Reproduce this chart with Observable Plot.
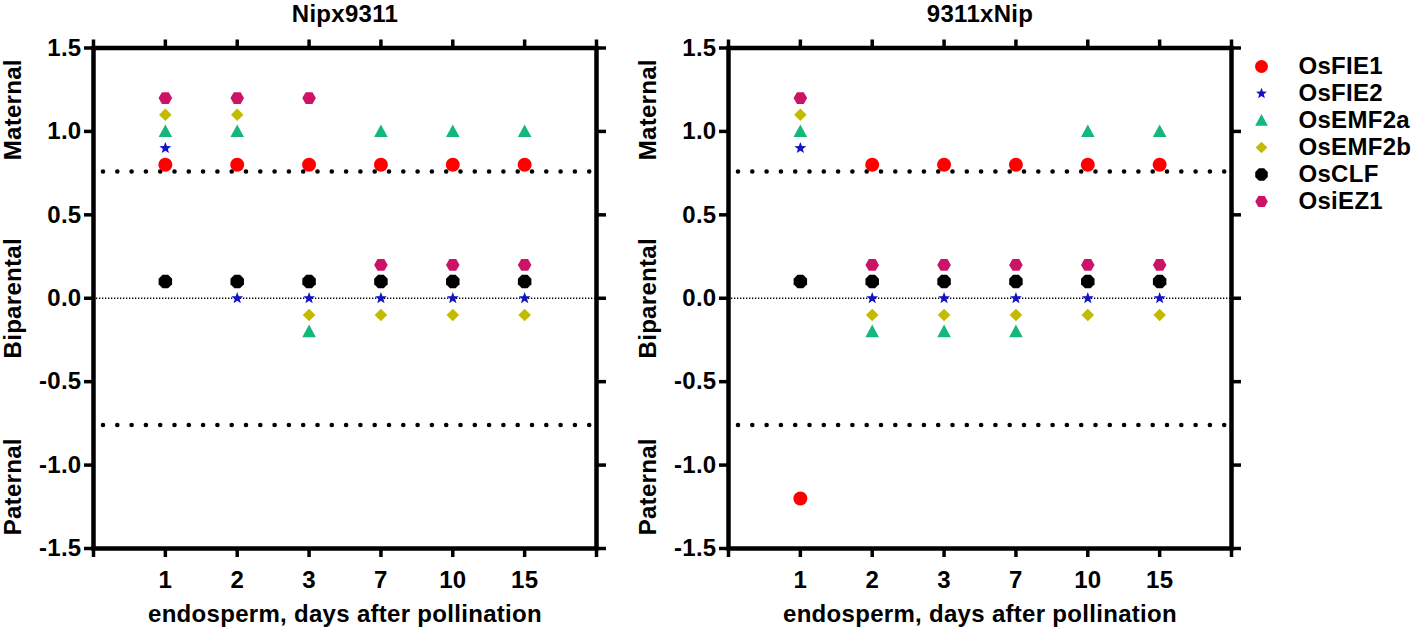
<!DOCTYPE html>
<html>
<head>
<meta charset="utf-8">
<script src="https://cdn.jsdelivr.net/npm/d3@7"></script>
<script src="https://cdn.jsdelivr.net/npm/@observablehq/plot@0.6"></script>
<style>
  body { margin: 0; background: #fff; }
  #wrap { position: relative; width: 1418px; height: 632px; overflow: hidden; }
  #wrap > div { position: absolute; top: 0; }
  text { font-family: "Liberation Sans", Arial, sans-serif; font-weight: bold; letter-spacing: 0.3px; }
</style>
</head>
<body>
<div id="wrap">
  <div id="left" style="left:0px"></div>
  <div id="right" style="left:635px"></div>
  <div id="legend" style="left:1240px; top:55px"></div>
</div>
<script>
// ---------- data ----------
const days = ["1", "2", "3", "7", "10", "15"];
const genes = ["OsFIE1", "OsFIE2", "OsEMF2a", "OsEMF2b", "OsCLF", "OsiEZ1"];
const yTicks = [-1.5, -1.0, -0.5, 0.0, 0.5, 1.0, 1.5];
const regionNames = ["Maternal", "Biparental", "Paternal"];
const threshold = 0.76;

const titleLeft = "Nipx9311";
const titleRight = "9311xNip";
const xTitle = "endosperm, days after pollination";

// Nipx9311
const nip_OsFIE1  = [0.8, 0.8, 0.8, 0.8, 0.8, 0.8];
const nip_OsFIE2  = [0.9, 0.0, 0.0, 0.0, 0.0, 0.0];
const nip_OsEMF2a = [1.0, 1.0, -0.2, 1.0, 1.0, 1.0];
const nip_OsEMF2b = [1.1, 1.1, -0.1, -0.1, -0.1, -0.1];
const nip_OsCLF   = [0.1, 0.1, 0.1, 0.1, 0.1, 0.1];
const nip_OsiEZ1  = [1.2, 1.2, 1.2, 0.2, 0.2, 0.2];

// 9311xNip
const ind_OsFIE1  = [-1.2, 0.8, 0.8, 0.8, 0.8, 0.8];
const ind_OsFIE2  = [0.9, 0.0, 0.0, 0.0, 0.0, 0.0];
const ind_OsEMF2a = [1.0, -0.2, -0.2, -0.2, 1.0, 1.0];
const ind_OsEMF2b = [1.1, -0.1, -0.1, -0.1, -0.1, -0.1];
const ind_OsCLF   = [0.1, 0.1, 0.1, 0.1, 0.1, 0.1];
const ind_OsiEZ1  = [1.2, 0.2, 0.2, 0.2, 0.2, 0.2];

// ---------- styles ----------
const colors = ["#ff0000", "#1212c8", "#14b87a", "#c3bb00", "#000000", "#cc1466"];

function poly(ctx, pts) {
  ctx.moveTo(pts[0][0], pts[0][1]);
  for (let i = 1; i < pts.length; ++i) ctx.lineTo(pts[i][0], pts[i][1]);
  ctx.closePath();
}
const unit = size => Math.sqrt(size / Math.PI) / 7;
const symCircle = { draw(ctx, size) { const r = 7 * unit(size); ctx.moveTo(r, 0); ctx.arc(0, 0, r, 0, 2 * Math.PI); } };
const symStar = { draw(ctx, size) {
  const k = unit(size), R = 6.2 * k, ri = R * 0.42, pts = [];
  for (let i = 0; i < 10; ++i) { const a = -Math.PI / 2 + i * Math.PI / 5, rr = i % 2 ? ri : R; pts.push([rr * Math.cos(a), rr * Math.sin(a)]); }
  poly(ctx, pts);
} };
const symTriangle = { draw(ctx, size) { const k = unit(size); poly(ctx, [[0, -7 * k], [6.8 * k, 5.6 * k], [-6.8 * k, 5.6 * k]]); } };
const symDiamond = { draw(ctx, size) { const k = unit(size); poly(ctx, [[0, -6.3 * k], [6.3 * k, 0], [0, 6.3 * k], [-6.3 * k, 0]]); } };
const symOctagon = { draw(ctx, size) {
  const k = unit(size), R = 7.3 * k, pts = [];
  for (let i = 0; i < 8; ++i) { const a = Math.PI / 8 + i * Math.PI / 4; pts.push([R * Math.cos(a), R * Math.sin(a)]); }
  poly(ctx, pts);
} };
const symHexagon = { draw(ctx, size) {
  const k = unit(size), R = 6.8 * k, pts = [];
  for (let i = 0; i < 6; ++i) { const a = i * Math.PI / 3; pts.push([R * Math.cos(a), R * Math.sin(a)]); }
  poly(ctx, pts);
} };
const symbols = [symCircle, symStar, symTriangle, symDiamond, symOctagon, symHexagon];

function rows(seriesList) {
  const out = [];
  seriesList.forEach((vals, gi) => vals.forEach((v, di) => out.push({ gene: genes[gi], pos: di + 1, value: v })));
  return out;
}
const nipRows = rows([nip_OsFIE1, nip_OsFIE2, nip_OsEMF2a, nip_OsEMF2b, nip_OsCLF, nip_OsiEZ1]);
const indRows = rows([ind_OsFIE1, ind_OsFIE2, ind_OsEMF2a, ind_OsEMF2b, ind_OsCLF, ind_OsiEZ1]);

const regions = [
  { name: regionNames[0], y: (threshold + 1.5) / 2 },
  { name: regionNames[1], y: 0 },
  { name: regionNames[2], y: -(threshold + 1.5) / 2 }
];
const xPositions = d3.range(0, days.length + 2);

function panel(data, title) {
  return Plot.plot({
    width: 620, height: 632,
    marginLeft: 93, marginRight: 24, marginTop: 47.5, marginBottom: 84,
    style: { fontFamily: "Liberation Sans, Arial, sans-serif", fontSize: "24px", fontWeight: "bold", overflow: "visible", background: "transparent" },
    x: { type: "linear", domain: [0, days.length + 1], axis: null },
    y: { domain: [-1.5, 1.5], axis: null },
    marks: [
      Plot.ruleY([0], { stroke: "#000", strokeWidth: 1.3, strokeDasharray: "1.3 1.7" }),
      Plot.ruleY([threshold, -threshold], { stroke: "#000", strokeWidth: 4.6, strokeDasharray: "0 14.3", strokeLinecap: "round", strokeDashoffset: 4.3 }),
      Plot.frame({ stroke: "#000", strokeWidth: 4.5 }),
      Plot.axisY({ anchor: "left", ticks: yTicks, tickSize: 9, tickPadding: 3, strokeWidth: 3.5, tickFormat: d => d.toFixed(1), label: null, fontSize: 24, fontWeight: "bold" }),
      Plot.axisY({ anchor: "right", ticks: yTicks, tickSize: 9, strokeWidth: 3.5, tickFormat: () => "", label: null }),
      Plot.axisX({ anchor: "bottom", ticks: xPositions, tickSize: 9, tickPadding: 13, strokeWidth: 3.5, tickFormat: i => days[i - 1] ?? "", label: null, fontSize: 24, fontWeight: "bold" }),
      Plot.axisX({ anchor: "top", ticks: xPositions, tickSize: 9, strokeWidth: 3.5, tickFormat: () => "", label: null }),
      ...genes.map((g, i) => Plot.dot(data.filter(d => d.gene === g), {
        x: "pos", y: "value", symbol: symbols[i], fill: colors[i], r: 7, stroke: "none"
      })),
      Plot.text(regions, { y: "y", text: "name", frameAnchor: "left", dx: -80, rotate: -90, textAnchor: "middle", lineAnchor: "middle", fontSize: 24, fontWeight: "bold" }),
      Plot.text([title], { frameAnchor: "top", dy: -34, textAnchor: "middle", lineAnchor: "middle", fontSize: 24, fontWeight: "bold" }),
      Plot.text([xTitle], { frameAnchor: "bottom", dy: 66, textAnchor: "middle", lineAnchor: "middle", fontSize: 24, fontWeight: "bold" })
    ]
  });
}

document.getElementById("left").append(panel(nipRows, titleLeft));
document.getElementById("right").append(panel(indRows, titleRight));

const legend = Plot.plot({
  width: 178, height: 157,
  marginTop: 10, marginBottom: 10, marginLeft: 0, marginRight: 0,
  style: { fontFamily: "Liberation Sans, Arial, sans-serif", fontSize: "24px", fontWeight: "bold", overflow: "visible", background: "transparent" },
  y: { type: "point", domain: genes, padding: 0, axis: null },
  x: { axis: null },
  marks: [
    ...genes.map((g, i) => Plot.dot([g], { y: d => d, frameAnchor: "left", dx: 21, symbol: symbols[i], fill: colors[i], r: 6.5 })),
    Plot.text(genes, { y: d => d, text: d => d, frameAnchor: "left", dx: 58, textAnchor: "start", lineAnchor: "middle", fontSize: 24, fontWeight: "bold" })
  ]
});
document.getElementById("legend").append(legend);
</script>
</body>
</html>
